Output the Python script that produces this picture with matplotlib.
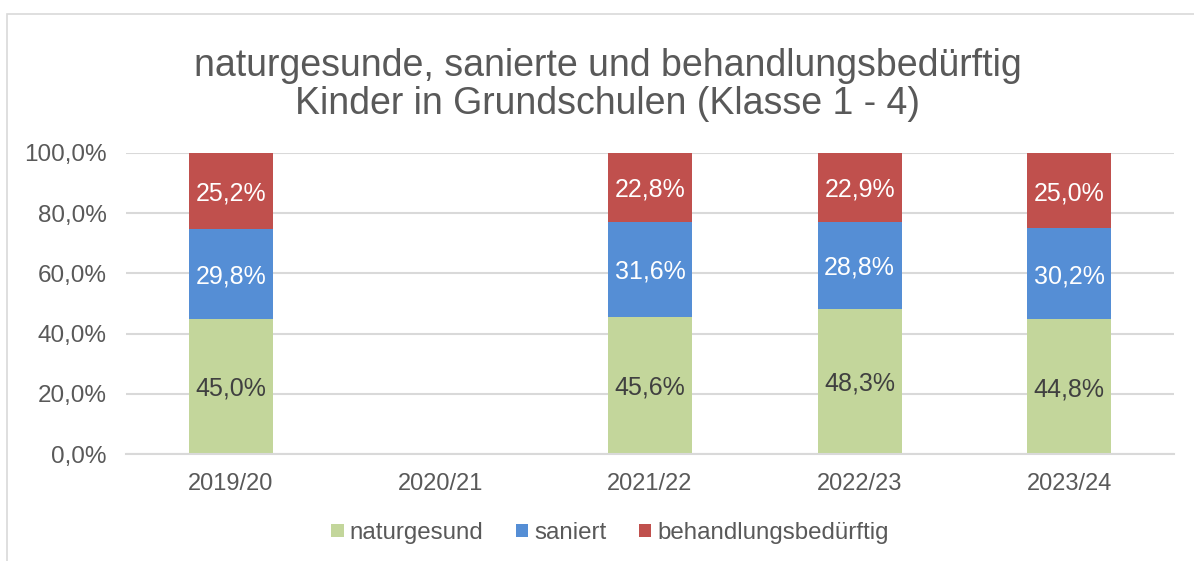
import numpy as np
import matplotlib.pyplot as plt
from matplotlib.patches import Rectangle

plt.rcParams['font.family'] = ['Liberation Sans', 'DejaVu Sans']

years = ['2019/20', '2020/21', '2021/22', '2022/23', '2023/24']
naturgesund = [45.0, np.nan, 45.6, 48.3, 44.8]
saniert = [29.8, np.nan, 31.6, 28.8, 30.2]
behandlung = [25.2, np.nan, 22.8, 22.9, 25.0]

series = [
    ('naturgesund', naturgesund, '#C3D69B', '#404040'),
    ('saniert', saniert, '#558ED5', 'white'),
    ('behandlungsbedürftig', behandlung, '#C0504D', 'white'),
]

grey = '#595959'

fig = plt.figure(figsize=(11.94, 5.61), dpi=100)
ax = fig.add_axes([126 / 1194, 1 - 454 / 561, 1048 / 1194, 301 / 561])

# outer chart border (cut off at right/bottom like the reference)
fig.patches.append(Rectangle((7 / 1194, -0.1), 1.2, 1 - 14 / 561 + 0.1,
                             transform=fig.transFigure, fill=False,
                             edgecolor='#D9D9D9', linewidth=1.2))

x = np.arange(len(years))
bottom = np.zeros(len(years))
for name, vals, color, tcol in series:
    v = np.array(vals, dtype=float)
    bars = ax.bar(x, np.nan_to_num(v), 0.4, bottom=bottom, color=color,
                  label=name, zorder=2)
    for i, b in enumerate(bars):
        if np.isnan(v[i]):
            continue
        ax.text(b.get_x() + b.get_width() / 2, bottom[i] + v[i] / 2,
                f'{v[i]:.1f}%'.replace('.', ','), ha='center', va='center_baseline',
                color=tcol, fontsize=18, zorder=3)
    bottom += np.nan_to_num(v)

ax.set_xlim(-0.5, len(years) - 0.5)
ax.set_ylim(0, 100)
ax.set_xticks(x)
ax.set_xticklabels(years)
ax.set_yticks(np.arange(0, 101, 20))
ax.set_yticklabels([f'{t:.1f}%'.replace('.', ',') for t in np.arange(0, 101, 20)])
ax.tick_params(length=0, colors=grey)
ax.tick_params(axis='y', labelsize=17.5, pad=14)
ax.tick_params(axis='x', labelsize=17, pad=14)
ax.grid(axis='y', color='#D9D9D9', linewidth=1.5, zorder=0)
ax.set_axisbelow(True)
for s in ['top', 'right', 'left']:
    ax.spines[s].set_visible(False)
ax.spines['bottom'].set_color('#D9D9D9')
ax.spines['bottom'].set_linewidth(1.5)

fig.text(0.509, 1 - 85 / 561, 'naturgesunde, sanierte und behandlungsbedürftig\nKinder in Grundschulen (Klasse 1 - 4)',
         ha='center', va='center', fontsize=27, color=grey, linespacing=1.1)

fig.legend(loc='center', bbox_to_anchor=(610 / 1194, 1 - 533 / 561), ncol=3,
           frameon=False, fontsize=17.4, labelcolor=grey,
           handlelength=0.5, handleheight=0.5, handletextpad=0.25,
           columnspacing=1.35)

fig.savefig('out.png', dpi=100)
